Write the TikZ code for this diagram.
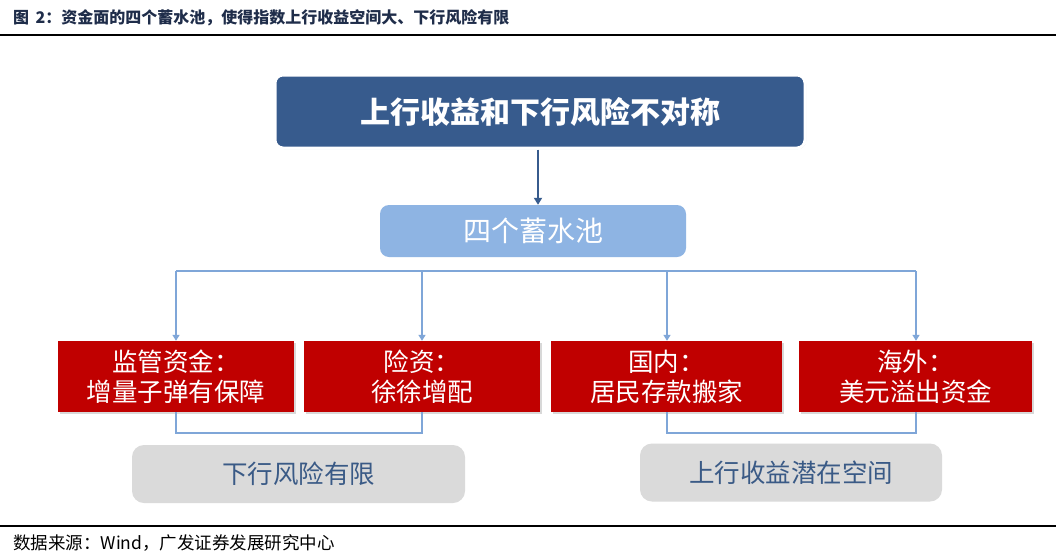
\documentclass[tikz,border=0pt]{standalone}
\usepackage{fontspec}
\setmainfont{Noto Sans CJK SC}
\usetikzlibrary{arrows.meta,shadows}
\definecolor{navy}{HTML}{375B8D}
\definecolor{lightblue}{HTML}{8EB4E3}
\definecolor{linkblue}{HTML}{7FA6D8}
\definecolor{boxred}{HTML}{C00000}
\definecolor{boxgray}{HTML}{DADADA}
\definecolor{graytext}{HTML}{3A5A86}
\definecolor{titlecol}{HTML}{1F2D4A}
\tikzset{
  topbox/.style={draw=white,line width=3pt,fill=navy,rounded corners=8pt,
    drop shadow={shadow xshift=1pt,shadow yshift=-1pt,opacity=0.35},
    minimum width=530pt,minimum height=73pt,inner sep=0pt,
    text=white,font=\fontsize{30}{34}\selectfont\bfseries},
  poolbox/.style={fill=lightblue,rounded corners=9pt,minimum width=306pt,
    minimum height=52pt,inner sep=0pt,text=white,font=\fontsize{28}{32}\selectfont},
  redbox/.style={fill=boxred,minimum height=71pt,inner sep=0pt,text=white,
    drop shadow={shadow xshift=1.5pt,shadow yshift=-1.5pt,opacity=0.3},
    align=center,font=\fontsize{25.5}{30}\selectfont},
  graybox/.style={fill=boxgray,rounded corners=12pt,minimum height=58pt,inner sep=0pt,
    text=graytext,font=\fontsize{25.5}{30}\selectfont},
  link/.style={draw=linkblue,line width=2pt},
  linkarrow/.style={link,-{Triangle[length=6pt,width=7pt]}},
  mainarrow/.style={draw=navy,line width=2pt,-{Triangle[length=7pt,width=8pt]}},
  rule/.style={draw=black,line width=1.2pt},
}
\begin{document}
\begin{tikzpicture}[x=1pt,y=-1pt]
\useasboundingbox (0,0) rectangle (1059,554);
\fill[white] (0,0) rectangle (1059,554);
% title
\node[anchor=west,text=titlecol,font=\fontsize{16}{18}\selectfont\bfseries,inner sep=0pt] (title) at (13,18)
  {图\hspace{0.4em}2：资金面的四个蓄水池，使得指数上行收益空间大、下行风险有限};
\draw[rule] (0,35) -- (1056,35);
% top box
\node[topbox] (top) at (540,111.5) {上行收益和下行风险不对称};
\node[poolbox] (pool) at (533,231) {四个蓄水池};
\draw[mainarrow] (top.south -| 538,0) -- (pool.north -| 538,0);
% red boxes
\node[redbox,minimum width=236pt] (b1) at (176,376.5) {监管资金：\\增量子弹有保障};
\node[redbox,minimum width=236pt] (b2) at (422,376.5) {险资：\\徐徐增配};
\node[redbox,minimum width=231pt] (b3) at (666.5,376.5) {国内：\\居民存款搬家};
\node[redbox,minimum width=233pt] (b4) at (915.5,376.5) {海外：\\美元溢出资金};
% top connectors
\coordinate (hl) at (176,271);
\coordinate (hr) at (916,271);
\draw[link] (hl) -- (hr);
\draw[linkarrow] (hl) -- (b1.north);
\draw[linkarrow] (422,271) -- (b2.north);
\draw[linkarrow] (667,271) -- (b3.north -| 667,0);
\draw[linkarrow] (hr) -- (b4.north -| 916,0);
% gray boxes
\node[graybox,minimum width=333pt] (g1) at (298.5,474) {下行风险有限\hspace{18pt}};
\node[graybox,minimum width=302pt] (g2) at (791,472.5) {上行收益潜在空间};
% bottom connectors
\draw[link] (b1.south) |- (299,433) -| (b2.south);
\draw[link] (b3.south -| 667,0) |- (791,433) -| (b4.south -| 916,0);
% footer
\draw[rule] (0,526) -- (1056,526);
\node[anchor=west,text=black,font=\fontsize{17.5}{19}\selectfont,inner sep=0pt] (src) at (13,543)
  {数据来源：Wind，广发证券发展研究中心};
\end{tikzpicture}
\end{document}
